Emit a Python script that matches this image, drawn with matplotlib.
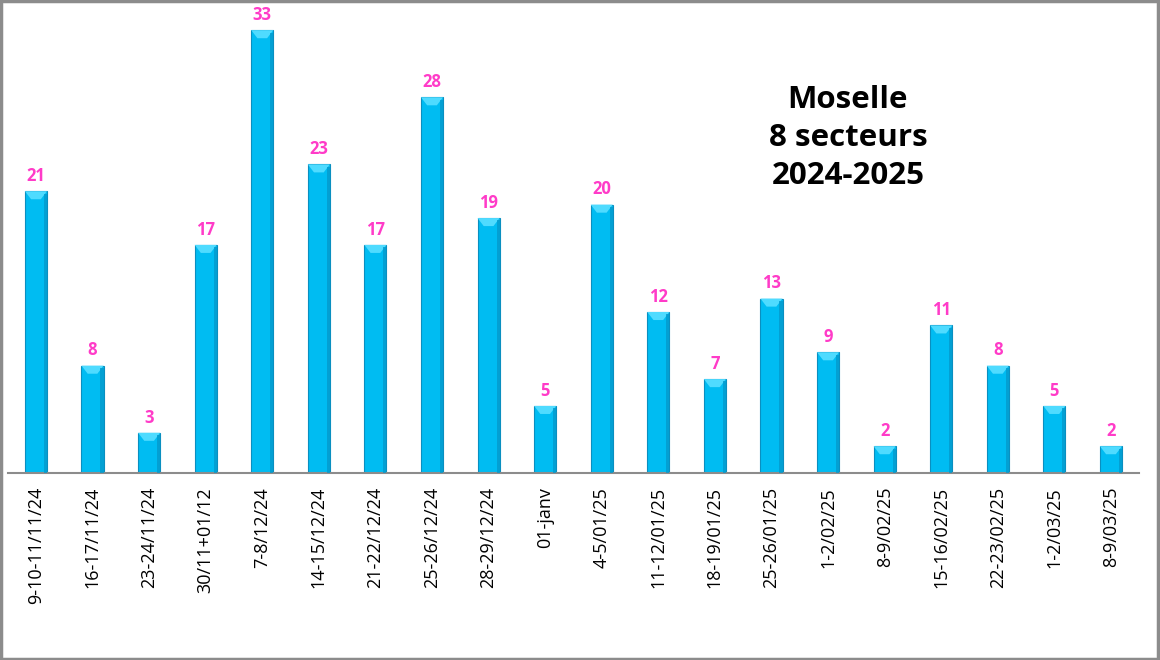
import matplotlib.pyplot as plt
import matplotlib.patches as patches

# Donnees
semaines = ["9-10-11/11/24", "16-17/11/24", "23-24/11/24", "30/11+01/12", "7-8/12/24",
            "14-15/12/24", "21-22/12/24", "25-26/12/24", "28-29/12/24", "01-janv",
            "4-5/01/25", "11-12/01/25", "18-19/01/25", "25-26/01/25", "1-2/02/25",
            "8-9/02/25", "15-16/02/25", "22-23/02/25", "1-2/03/25", "8-9/03/25"]
valeurs = [21, 8, 3, 17, 33, 23, 17, 28, 19, 5, 20, 12, 7, 13, 9, 2, 11, 8, 5, 2]

plt.rcParams['font.family'] = ['Open Sans', 'DejaVu Sans']

fig = plt.figure(figsize=(11.6, 6.6), dpi=100)
ax = fig.add_axes([0.0066, 0.2833, 0.9755, 0.7015])

x = list(range(len(valeurs)))
largeur = 0.39
bars = ax.bar(x, valeurs, width=largeur, color='#00BCF2', edgecolor='#0A8FC0', linewidth=0.8, zorder=2)

ax.set_xlim(-0.5, len(valeurs) - 0.5)
ax.set_ylim(0, 34.5)

# biseau en haut des barres (effet Excel)
for b in bars:
    x0 = b.get_x()
    w = b.get_width()
    h = b.get_height()
    d = 0.6
    top = patches.Polygon([(x0, h), (x0 + w, h), (x0 + w * 0.72, h - d), (x0 + w * 0.28, h - d)],
                          closed=True, facecolor='#4FDBFF', edgecolor='none', zorder=3)
    ax.add_patch(top)
    droite = patches.Rectangle((x0 + w * 0.86, 0), w * 0.14, h - d * 0.3,
                               facecolor='#0499CC', edgecolor='none', zorder=3, alpha=0.8)
    ax.add_patch(droite)

# etiquettes de valeur
for xi, v in zip(x, valeurs):
    ax.annotate(str(v), (xi, v), xytext=(0, 4.5), textcoords='offset points',
                ha='center', va='bottom', fontsize=12, fontweight='bold', color='#FF3BC8')

ax.set_xticks(x)
ax.set_xticklabels(semaines, rotation=90, fontsize=13, color='black')
ax.tick_params(axis='x', length=0, pad=10)
ax.set_yticks([])

for s in ['top', 'right', 'left']:
    ax.spines[s].set_visible(False)
ax.spines['bottom'].set_color('#8C8C8C')
ax.spines['bottom'].set_linewidth(1.5)

fig.text(0.731, 0.791, "Moselle\n8 secteurs\n2024-2025", ha='center', va='center',
         fontsize=22.5, fontweight='bold', color='black', linespacing=1.35)

# cadre
cadre = patches.Rectangle((0.001, 0.002), 0.997, 0.996, transform=fig.transFigure,
                          fill=False, edgecolor='#8C8C8C', linewidth=2.5)
fig.patches.append(cadre)

fig.savefig('out.png', dpi=100)
